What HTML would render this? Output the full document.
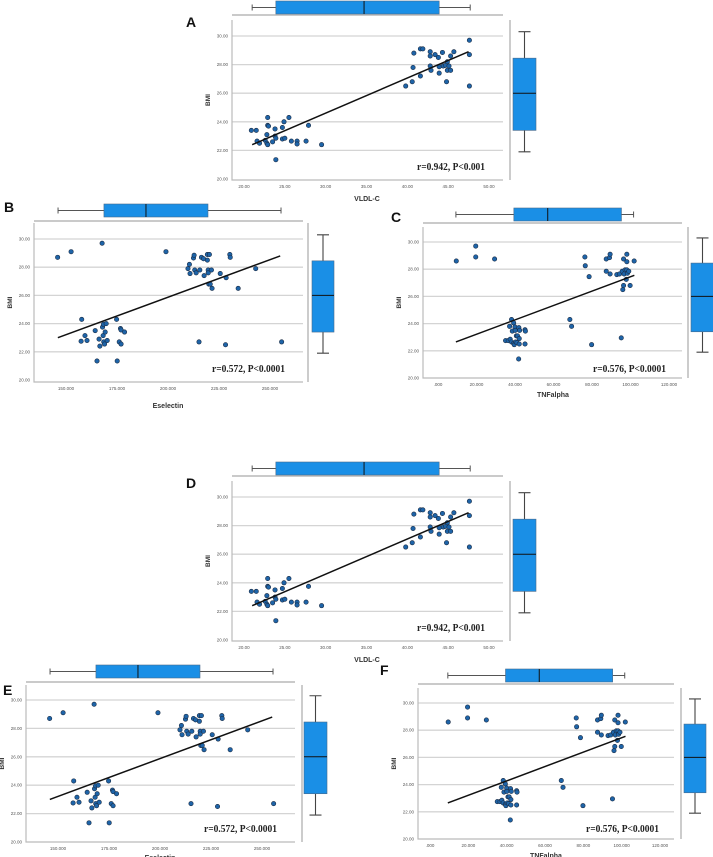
<!DOCTYPE html>
<html><head><meta charset="utf-8"><style>
html,body{margin:0;padding:0;background:#fff;}
svg{display:block;}
</style></head><body>
<svg id="fig" width="713" height="857" viewBox="0 0 713 857" xmlns="http://www.w3.org/2000/svg"></svg>
<script>
// ---- data ----
const vldlX=[20.9,21.5,21.6,21.9,22.6,22.8,22.9,22.9,23.0,22.8,22.9,23.5,23.8,23.8,23.9,23.9,24.7,24.9,24.7,25.0,25.5,25.8,26.5,26.5,27.6,27.9,29.5,39.8,40.6,40.7,40.8,41.6,41.6,41.9,42.8,42.8,42.8,42.9,43.4,43.8,43.9,43.9,44.3,44.4,44.7,44.8,44.9,44.9,45.1,45.3,45.3,45.7,47.6,47.6,47.6];
const vldlBMI=[23.4,23.4,22.65,22.5,22.7,23.1,24.3,23.75,23.7,22.5,22.4,22.6,23.5,23.0,22.85,21.35,23.6,24.0,22.8,22.85,24.3,22.65,22.65,22.45,22.65,23.75,22.4,26.5,26.8,27.8,28.8,27.2,29.1,29.1,27.9,28.9,28.6,27.6,28.7,28.5,27.85,27.4,28.85,27.9,27.95,26.8,28.2,27.6,27.9,27.6,28.6,28.9,29.7,28.7,26.5];
const eselX=[145.9,152.5,157.7,157.4,159.3,160.3,164.3,165.2,166.2,166.6,167.7,167.9,168.2,168.4,168.5,168.9,169.2,169.7,170.2,174.8,175.1,176.1,176.7,177.0,177.0,178.7,199.0,209.8,210.5,210.8,212.5,212.8,213.1,213.8,215.2,215.6,216.4,217.4,217.7,219.3,219.3,219.7,219.7,220.3,220.0,220.7,221.3,221.6,225.6,228.2,228.5,230.3,230.5,234.4,243.0,255.7];
const eselBMI=[28.7,29.1,24.3,22.75,23.15,22.8,23.5,21.35,22.9,22.4,29.7,23.75,23.15,23.95,22.7,22.55,23.4,24.0,22.8,24.3,21.35,22.7,23.65,23.55,22.55,23.4,29.1,27.9,28.2,27.55,28.65,28.85,27.8,27.6,22.7,27.8,28.7,28.6,27.4,28.5,28.9,27.8,27.6,28.9,26.8,26.8,27.8,26.5,27.55,22.5,27.25,28.9,28.7,26.5,27.9,22.7];
const tnfX=[9.5,19.6,19.6,29.4,35.1,36.5,37.2,37.5,38.2,38.2,38.6,39.3,39.3,39.6,40.0,40.1,40.3,40.7,41.0,41.3,41.9,42.0,42.2,42.2,42.4,45.2,45.4,45.2,68.5,69.4,76.3,76.5,78.5,79.8,87.4,87.4,89.1,89.4,89.4,92.9,94.3,95.2,95.7,96.0,96.4,96.4,96.7,97.2,97.8,98.1,98.1,98.1,98.4,99.1,99.8,101.9];
const tnfBMI=[28.6,29.7,28.9,28.75,22.75,22.75,23.8,22.85,24.3,22.65,23.45,24.05,22.55,22.45,23.75,23.5,22.65,23.1,22.6,23.1,21.4,23.7,22.9,22.5,23.5,23.55,23.45,22.5,24.3,23.8,28.9,28.25,27.45,22.45,27.85,28.75,28.85,29.1,27.65,27.6,27.65,22.95,27.85,26.5,28.75,26.8,27.65,27.95,27.25,29.1,28.55,27.95,27.7,27.85,26.8,28.6];
// regression endpoints [x0,x1], [y0,y1]
const vldlLineX=[21.0,47.5], vldlLineY=[22.4,28.9];
const eselLineX=[146,255], eselLineY=[23.0,28.8];
const tnfLineX=[9.3,102], tnfLineY=[22.65,27.55];
// box plots: [min, q1, median, q3, max]
const vldlBox=[21.0,23.9,34.7,43.9,47.7];
const eselBox=[146.1,168.6,189.2,219.6,255.4];
const tnfBox=[9.3,39.4,57,95.3,101.6];
const bmiBox=[21.9,23.4,26.0,28.45,30.3];
// ticks
const bmiTicks=[20,22,24,26,28,30];
const vldlTicks=[20,25,30,35,40,45,50];
const eselTicks=[150,175,200,225,250];
const tnfTicks=[0,20,40,60,80,100,120];

const NS="http://www.w3.org/2000/svg";
const svg=document.getElementById('fig');
function mk(tag,attrs,parent){const e=document.createElementNS(NS,tag);for(const k in attrs)e.setAttribute(k,attrs[k]);(parent||svg).appendChild(e);return e;}

const panels=[
 {id:'a',L:232,T:20,R:503,B:180,x0:20,x0p:244,x1:50,x1p:489,y20:179,y30:36,tb:[1,14],sepY:15,rsx:510,rb:[513,536],lab:'A',lx:186,ly:27,xl:'VLDL-C',xlx:367,xly:201,rx:417,ry:170,rw:68,X:vldlX,Y:vldlBMI,LX:vldlLineX,LY:vldlLineY,box:vldlBox,ticks:vldlTicks,fmt:v=>v.toFixed(2)},
 {id:'d',L:232,T:481,R:503,B:641,x0:20,x0p:244,x1:50,x1p:489,y20:640,y30:497,tb:[462,475],sepY:476,rsx:510,rb:[513,536],lab:'D',lx:186,ly:488,xl:'VLDL-C',xlx:367,xly:662,rx:417,ry:631,rw:68,X:vldlX,Y:vldlBMI,LX:vldlLineX,LY:vldlLineY,box:vldlBox,ticks:vldlTicks,fmt:v=>v.toFixed(2)},
 {id:'b',L:34,T:223,R:303,B:382,x0:150,x0p:66,x1:250,x1p:270,y20:380,y30:239,tb:[204,217],sepY:221,rsx:308,rb:[312,334],lab:'B',lx:4,ly:212,xl:'Eselectin',xlx:168,xly:408,rx:212,ry:372,rw:73,X:eselX,Y:eselBMI,LX:eselLineX,LY:eselLineY,box:eselBox,ticks:eselTicks,fmt:v=>v.toFixed(3)},
 {id:'e',L:26,T:685,R:295,B:842,x0:150,x0p:58,x1:250,x1p:262,y20:842,y30:700,tb:[665,678],sepY:682,rsx:302,rb:[304,327],lab:'E',lx:3,ly:695,xl:'Eselectin',xlx:160,xly:860,rx:204,ry:832,rw:73,X:eselX,Y:eselBMI,LX:eselLineX,LY:eselLineY,box:eselBox,ticks:eselTicks,fmt:v=>v.toFixed(3)},
 {id:'c',L:423,T:227,R:682,B:378,x0:0,x0p:438,x1:120,x1p:669,y20:378,y30:242,tb:[208,221],sepY:223,rsx:688,rb:[691,714],lab:'C',lx:391,ly:222,xl:'TNFalpha',xlx:553,xly:397,rx:593,ry:372,rw:73,X:tnfX,Y:tnfBMI,LX:tnfLineX,LY:tnfLineY,box:tnfBox,ticks:tnfTicks,fmt:v=>v===0?'.000':v.toFixed(3)},
 {id:'f',L:418,T:688,R:674,B:839,x0:0,x0p:430,x1:120,x1p:660,y20:839,y30:703,tb:[669,682],sepY:684,rsx:681,rb:[684,706],lab:'F',lx:380,ly:675,xl:'TNFalpha',xlx:546,xly:858,rx:586,ry:832,rw:73,X:tnfX,Y:tnfBMI,LX:tnfLineX,LY:tnfLineY,box:tnfBox,ticks:tnfTicks,fmt:v=>v===0?'.000':v.toFixed(3)}
];

const BOXFILL='#1a8fe6', BOXSTROKE='#4a6a8a';
panels.forEach(p=>{
  const g=mk('g',{});
  
  
  const sx=v=>p.x0p+(v-p.x0)*(p.x1p-p.x0p)/(p.x1-p.x0);
  const sy=v=>p.y20+(v-20)*(p.y30-p.y20)/10;
  bmiTicks.forEach(t=>{
    if(t>20){const l=mk('line',{x1:p.L,x2:p.R,y1:sy(t),y2:sy(t),stroke:'#d4d4d4','stroke-width':1.3},g);
    }
    const tx=mk('text',{x:p.L-4,y:sy(t)+1.5,'font-size':4.5,'text-anchor':'end',fill:'#555','font-family':'Liberation Sans, sans-serif'},g);
    tx.textContent=t.toFixed(2);
    
  });
  p.ticks.forEach(t=>{
    const tx=mk('text',{x:sx(t),y:p.B+8,'font-size':4.5,'text-anchor':'middle',fill:'#555','font-family':'Liberation Sans, sans-serif'},g);
    tx.textContent=p.fmt(t);
    
  });
  const ax=mk('path',{d:`M${p.L},${p.T}V${p.B}H${p.R}`,fill:'none',stroke:'#bbb','stroke-width':1.2},g);
  
  const sep=mk('line',{x1:p.L,x2:p.R,y1:p.sepY,y2:p.sepY,stroke:'#aaa','stroke-width':1.2},g);
  
  const sep2=mk('line',{x1:p.rsx,x2:p.rsx,y1:p.T,y2:p.B,stroke:'#aaa','stroke-width':1.2},g);
  
  p.X.forEach((v,i)=>{
    const c=mk('circle',{cx:sx(v),cy:sy(p.Y[i]),r:2.2,fill:'#1e64a8',stroke:'#1b2c44','stroke-width':0.6},g);
    
  });
  const rl=mk('line',{x1:sx(p.LX[0]),y1:sy(p.LY[0]),x2:sx(p.LX[1]),y2:sy(p.LY[1]),stroke:'#111','stroke-width':1.5},g);
  
  const b=p.box, ym=(p.tb[0]+p.tb[1])/2;
  const tw=mk('path',{d:`M${sx(b[0])},${ym}H${sx(b[4])}M${sx(b[0])},${ym-3}V${ym+3}M${sx(b[4])},${ym-3}V${ym+3}`,stroke:'#555','stroke-width':1,fill:'none'},g);
  
  const tr=mk('rect',{x:sx(b[1]),y:p.tb[0],width:sx(b[3])-sx(b[1]),height:p.tb[1]-p.tb[0],fill:BOXFILL,stroke:BOXSTROKE,'stroke-width':0.6},g);
  
  const tm=mk('line',{x1:sx(b[2]),x2:sx(b[2]),y1:p.tb[0],y2:p.tb[1],stroke:'#111','stroke-width':1},g);
  
  const r=bmiBox, xm=(p.rb[0]+p.rb[1])/2;
  const rw=mk('path',{d:`M${xm},${sy(r[0])}V${sy(r[4])}M${xm-6},${sy(r[0])}H${xm+6}M${xm-6},${sy(r[4])}H${xm+6}`,stroke:'#444','stroke-width':1.1,fill:'none'},g);
  
  const rr=mk('rect',{x:p.rb[0],y:sy(r[3]),width:p.rb[1]-p.rb[0],height:sy(r[1])-sy(r[3]),fill:BOXFILL,stroke:BOXSTROKE,'stroke-width':0.6},g);
  
  const rm=mk('line',{x1:p.rb[0],x2:p.rb[1],y1:sy(r[2]),y2:sy(r[2]),stroke:'#111','stroke-width':1},g);
  
  const lab=mk('text',{x:p.lx,y:p.ly,'font-size':14,'font-weight':'bold',fill:'#111','font-family':'Liberation Sans, sans-serif'},g);
  lab.textContent=p.lab;
  
  const yl=mk('text',{x:0,y:0,'font-size':6.5,'font-weight':'bold',fill:'#333','text-anchor':'middle','font-family':'Liberation Sans, sans-serif',transform:`translate(${p.L-22},${(p.T+p.B)/2}) rotate(-90)`},g);
  yl.textContent='BMI';
  
  const xl=mk('text',{x:p.xlx,y:p.xly,'font-size':7,'font-weight':'bold',fill:'#333','text-anchor':'middle','font-family':'Liberation Sans, sans-serif'},g);
  xl.textContent=p.xl;
  
  const rt=mk('text',{x:p.rx,y:p.ry,'font-size':10,'font-weight':'bold',fill:'#222','font-family':'Liberation Serif, serif',textLength:p.rw,lengthAdjust:'spacingAndGlyphs'},g);
  rt.textContent=(p.X===vldlX?'r=0.942, P<0.001':p.X===eselX?'r=0.572, P<0.0001':'r=0.576, P<0.0001');
  
});
</script>
</body></html>
